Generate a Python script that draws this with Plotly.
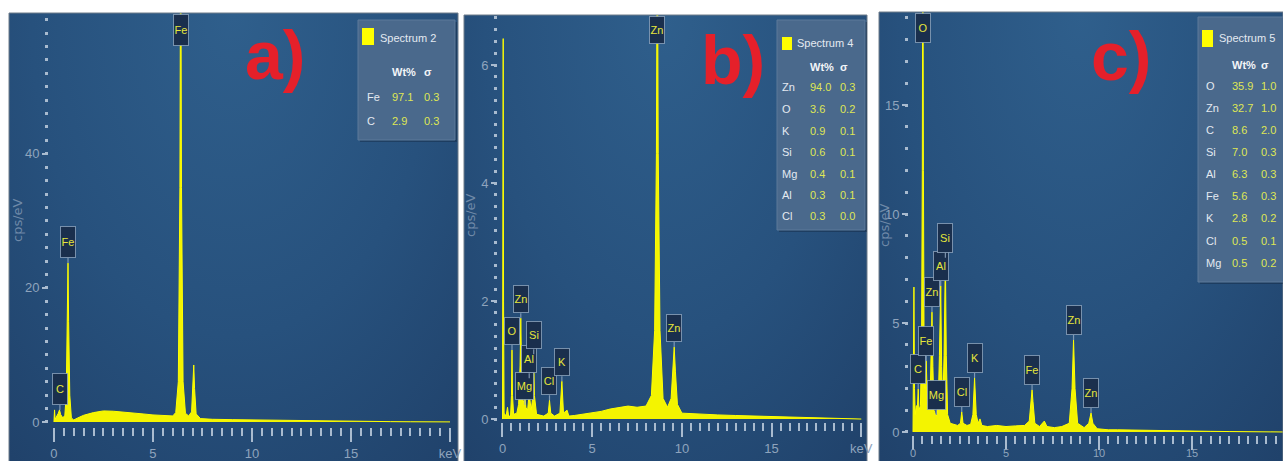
import plotly.graph_objects as go

W, H = 1283, 461

# ---------------- data ----------------
# Spectrum 2 (panel a): energy (keV) and counts (cps/eV)
energy_a = [0.0, 0.03, 0.06, 0.15, 0.22, 0.28, 0.34, 0.45, 0.55, 0.62, 0.68, 0.71, 0.74, 0.80, 0.88,
            1.0, 1.2, 1.5, 2.0, 2.5, 3.0, 3.5, 4.0, 4.5, 5.0, 5.5, 6.0, 6.15, 6.28, 6.36, 6.40, 6.44,
            6.52, 6.64, 6.8, 6.95, 7.02, 7.06, 7.10, 7.18, 7.4, 8.0, 9.0, 10.0, 11.0, 12.0, 13.0,
            14.0, 15.0, 16.0, 17.0, 18.0, 19.0, 20.0]
cps_a = [0.0, 1.8, 0.4, 0.8, 1.3, 1.8, 1.1, 0.6, 1.0, 4.0, 15.0, 23.7, 15.0, 4.0, 0.6,
         0.3, 0.6, 1.0, 1.4, 1.65, 1.6, 1.5, 1.35, 1.2, 1.05, 0.95, 0.9, 1.4, 6.0, 35.0, 80.0, 35.0,
         6.0, 1.3, 0.9, 1.5, 5.0, 8.5, 5.0, 1.2, 0.5, 0.4, 0.35, 0.3, 0.25, 0.2, 0.15,
         0.12, 0.1, 0.07, 0.05, 0.03, 0.02, 0.01]

# Spectrum 4 (panel b)
energy_b = [0.0, 0.02, 0.04, 0.06, 0.09, 0.2, 0.28, 0.34, 0.45, 0.5, 0.53, 0.56, 0.62, 0.8, 0.9,
            0.98, 1.02, 1.06, 1.14, 1.2, 1.25, 1.3, 1.4, 1.46, 1.49, 1.52, 1.6, 1.7, 1.74, 1.78,
            1.9, 2.3, 2.55, 2.62, 2.69, 2.9, 3.2, 3.31, 3.4, 3.6, 3.7, 4.0, 4.5, 5.0, 5.5, 6.0,
            6.5, 7.0, 7.5, 8.0, 8.3, 8.48, 8.58, 8.63, 8.68, 8.78, 8.95, 9.2, 9.4, 9.5, 9.57,
            9.64, 9.75, 10.0, 11.0, 12.0, 13.0, 14.0, 15.0, 16.0, 17.0, 18.0, 20.0]
cps_b = [0.0, 2.0, 6.45, 2.0, 0.1, 0.05, 0.2, 0.05, 0.05, 0.4, 1.17, 0.4, 0.08, 0.1, 0.25,
         0.9, 1.71, 0.9, 0.3, 0.3, 0.42, 0.2, 0.15, 0.35, 0.69, 0.35, 0.15, 0.4, 1.1, 0.4,
         0.08, 0.05, 0.1, 0.32, 0.1, 0.05, 0.1, 0.64, 0.1, 0.15, 0.05, 0.06, 0.08, 0.1, 0.13, 0.17,
         0.2, 0.22, 0.2, 0.22, 0.4, 1.5, 4.5, 9.0, 4.5, 1.5, 0.35, 0.2, 0.35, 0.8, 1.22,
         0.8, 0.25, 0.1, 0.08, 0.07, 0.06, 0.05, 0.04, 0.03, 0.02, 0.01, 0.0]

# Spectrum 5 (panel c)
energy_c = [0.0, 0.02, 0.05, 0.08, 0.12, 0.18, 0.24, 0.28, 0.32, 0.4, 0.46, 0.5, 0.53, 0.56, 0.6,
            0.65, 0.71, 0.77, 0.85, 0.92, 0.97, 1.02, 1.07, 1.13, 1.2, 1.25, 1.3, 1.36, 1.42, 1.49,
            1.54, 1.6, 1.67, 1.74, 1.79, 1.86, 2.0, 2.2, 2.4, 2.55, 2.62, 2.69, 2.9, 3.1, 3.22,
            3.31, 3.4, 3.5, 3.6, 3.7, 4.0, 4.5, 5.0, 5.5, 6.0, 6.25, 6.35, 6.40, 6.45, 6.55, 6.8,
            7.06, 7.2, 7.6, 8.0, 8.4, 8.55, 8.63, 8.71, 8.85, 9.2, 9.45, 9.57, 9.67, 9.9, 10.5,
            11.0, 12.0, 13.0, 14.0, 15.0, 16.0, 17.0, 18.0, 20.0]
cps_c = [0.0, 2.5, 6.65, 2.0, 0.8, 1.2, 1.2, 1.97, 1.0, 1.2, 4.0, 12.0, 25.0, 12.0, 3.0,
         2.0, 3.26, 1.5, 1.2, 1.5, 3.5, 5.5, 3.0, 1.0, 0.8, 0.78, 0.7, 1.5, 3.5, 6.7,
         3.0, 1.2, 3.5, 8.0, 3.5, 0.8, 0.4, 0.35, 0.3, 0.4, 0.92, 0.4, 0.3, 0.35, 0.8,
         2.48, 0.8, 0.4, 0.6, 0.3, 0.25, 0.3, 0.25, 0.28, 0.3, 0.5, 1.4, 1.93, 1.4, 0.4, 0.25,
         0.5, 0.25, 0.2, 0.25, 0.4, 2.0, 4.22, 2.0, 0.4, 0.2, 0.4, 0.87, 0.4, 0.15, 0.1,
         0.1, 0.08, 0.06, 0.05, 0.04, 0.03, 0.02, 0.01, 0.0]

# Peak labels: element, energy (keV), pointer height (cps/eV; None = peak beyond top)
peaks_a = [("C", 0.30, 1.8), ("Fe", 0.71, 23.7), ("Fe", 6.40, None)]
peaks_b = [("O", 0.53, 1.17), ("Zn", 1.02, 1.71), ("Mg", 1.25, 0.24), ("Al", 1.49, 0.69),
           ("Si", 1.74, 1.1), ("Cl", 2.62, 0.32), ("K", 3.31, 0.64), ("Zn", 8.63, None),
           ("Zn", 9.57, 1.22)]
peaks_c = [("C", 0.28, 1.97), ("Fe", 0.71, 3.26), ("Zn", 1.02, 5.5), ("Mg", 1.25, 0.78),
           ("Al", 1.49, 6.7), ("Si", 1.74, 8.0), ("Cl", 2.62, 0.92), ("K", 3.31, 2.48),
           ("Fe", 6.40, 1.93), ("Zn", 8.63, 4.22), ("Zn", 9.57, 0.87), ("O", 0.53, None)]

# Quantification tables
spectrum_names = ["Spectrum 2", "Spectrum 4", "Spectrum 5"]
elements_a = ["Fe", "C"]
wt_a = ["97.1", "2.9"]
sigma_a = ["0.3", "0.3"]
elements_b = ["Zn", "O", "K", "Si", "Mg", "Al", "Cl"]
wt_b = ["94.0", "3.6", "0.9", "0.6", "0.4", "0.3", "0.3"]
sigma_b = ["0.3", "0.2", "0.1", "0.1", "0.1", "0.1", "0.0"]
elements_c = ["O", "Zn", "C", "Si", "Al", "Fe", "K", "Cl", "Mg"]
wt_c = ["35.9", "32.7", "8.6", "7.0", "6.3", "5.6", "2.8", "0.5", "0.5"]
sigma_c = ["1.0", "1.0", "2.0", "0.3", "0.3", "0.3", "0.2", "0.1", "0.2"]

panel_tags = ["a)", "b)", "c)"]
x_tickvals = [0, 5, 10, 15, 20]
x_ticktext = ["0", "5", "10", "15", "keV"]
y_tickvals_a = [0, 20, 40]
y_tickvals_b = [0, 2, 4, 6]
y_tickvals_c = [0, 5, 10, 15]

# ---------------- styling helpers ----------------
FONT = "Liberation Sans, Arial, sans-serif"
YEL = "#ffff00"
TICKC = "#a9bbcf"
LABC = "#8fa4bd"


def px(p):
    return p / W


def py(p):
    return (H - p) / H


fig = go.Figure()

# panel frames (pixels): left, right, top
frames = [(9, 458, 13), (464, 867, 15), (879, 1283, 12)]

layout = dict(
    width=W, height=H, margin=dict(l=0, r=0, t=0, b=0, pad=0), autosize=False,
    paper_bgcolor="white", plot_bgcolor="rgba(0,0,0,0)", showlegend=False,
)

# background gradient axes 1..3
for i, (l, r, t) in enumerate(frames):
    n = "" if i == 0 else str(i + 1)
    layout["xaxis" + n] = dict(domain=[px(l), min(px(r), 1.0)], range=[0, 1], visible=False,
                               fixedrange=True, automargin=False, anchor="y" + n)
    layout["yaxis" + n] = dict(domain=[0, py(t)], range=[0, 1], visible=False, fixedrange=True,
                               automargin=False, anchor="x" + n)
    fig.add_trace(go.Scatter(
        x=[-0.5, 1.5, 1.5, -0.5, -0.5], y=[-0.6, -0.6, 2.6, 2.6, -0.6],
        xaxis="x" + n, yaxis="y" + n, mode="lines", line=dict(width=0),
        fill="toself",
        fillgradient=dict(type="radial",
                          colorscale=[[0, "#2f5f8c"], [0.45, "#27517d"], [1, "#1c3960"]]),
        hoverinfo="skip"))

# data axes 4..6
axes_spec = [
    ((49, 452), (427, 13), [-0.25, 20.1], [-0.75, 61.0], y_tickvals_a, 2, energy_a, cps_a, 0, 13),
    ((498, 864), (422, 15), [-0.25, 20.15], [-0.05, 6.85], y_tickvals_b, 0.2, energy_b, cps_b, 0, 13),
    ((909, 1283), (435, 12), [-0.215, 19.89], [-0.138, 19.27], y_tickvals_c, 1, energy_c, cps_c, -6, 11),
]
for i, (dx, dy, xr, yr, yt, ymin_dt, ex, cy, stand, xfs) in enumerate(axes_spec):
    k = str(i + 4)
    layout["xaxis" + k] = dict(
        domain=[px(dx[0]), min(px(dx[1]), 1.0)], range=xr, anchor="y" + k, automargin=False,
        showgrid=False, zeroline=False, showline=False,
        tickmode="array", tickvals=x_tickvals, ticktext=x_ticktext,
        ticks="outside", ticklen=14, tickwidth=2, tickcolor=TICKC, ticklabelstandoff=stand,
        minor=dict(dtick=0.5, tick0=0, ticks="outside", ticklen=8, tickwidth=2, tickcolor=TICKC),
        tickfont=dict(family=FONT, size=xfs, color=LABC), fixedrange=True)
    layout["yaxis" + k] = dict(
        domain=[py(dy[0]), py(dy[1])], range=yr, anchor="x" + k, automargin=False,
        showgrid=False, zeroline=False, showline=False,
        tickmode="array", tickvals=yt,
        ticks="outside", ticklen=6, tickwidth=2, tickcolor=TICKC,
        minor=dict(dtick=ymin_dt, tick0=0, ticks="outside", ticklen=3, tickwidth=3, tickcolor=TICKC),
        tickfont=dict(family=FONT, size=13, color=LABC), fixedrange=True)
    fig.add_trace(go.Scatter(
        x=ex, y=cy, xaxis="x" + k, yaxis="y" + k, mode="lines",
        line=dict(color=YEL, width=1), fill="tozeroy", fillcolor="#f4f400",
        hoverinfo="skip"))

annotations = []
shapes = []

# panel frame outlines (top, left, right)
for (l, r, t) in frames:
    for (xa, ya, xb, yb) in [(l, t, r, t), (l, t, l, H + 2), (r, t, r, H + 2)]:
        shapes.append(dict(type="line", xref="paper", yref="paper", x0=px(xa), x1=px(xb),
                           y0=py(ya), y1=py(yb), line=dict(color="#6f7c8a", width=1), layer="above"))

# peak label boxes
box_h = [30, 26, 28]
for i, peaks in enumerate([peaks_a, peaks_b, peaks_c]):
    k = str(i + 4)
    ymax = axes_spec[i][3][1]
    for (el, e, h) in peaks:
        wdt = 17 if el == "Mg" else 14
        common = dict(text=el, xref="x" + k, yref="y" + k, x=e,
                      font=dict(family=FONT, size=11, color="#e6e63c"),
                      bgcolor="#1a2f4d", bordercolor="rgba(150,172,196,0.75)", borderwidth=1,
                      borderpad=0, width=wdt, height=box_h[i], xanchor="center")
        if h is None:
            annotations.append(dict(common, y=ymax, yanchor="top", yshift=-1, showarrow=False))
        else:
            annotations.append(dict(common, y=h, yanchor="bottom", showarrow=True, ax=0, ay=-5,
                                    arrowhead=0, arrowwidth=1.2, arrowcolor="rgba(150,172,196,0.8)",
                                    standoff=0))

# quantification boxes
tables = [
    dict(box=(358, 455, 20, 140), sq=(362, 374, 28, 45), name_xy=(378, 38), head_y=72,
         cols=(365, 390, 422), rows=[97, 121], el=elements_a, wt=wt_a, sg=sigma_a),
    dict(box=(777, 865, 20, 230), sq=(782, 792, 37, 50), name_xy=(795, 43), head_y=67,
         cols=(780, 808, 838), rows=[87, 109, 131, 152, 174, 195, 216], el=elements_b, wt=wt_b,
         sg=sigma_b),
    dict(box=(1198, 1290, 17, 282), sq=(1202, 1213, 30, 47), name_xy=(1217, 38), head_y=65,
         cols=(1204, 1230, 1259), rows=[86, 108, 130, 152, 174, 196, 218, 241, 263],
         el=elements_c, wt=wt_c, sg=sigma_c),
]
for i, tb in enumerate(tables):
    x0, x1, y0, y1 = tb["box"]
    shapes.append(dict(type="rect", xref="paper", yref="paper", x0=px(x0 + 2), x1=px(x1 + 2),
                       y0=py(y1 + 2), y1=py(y0 + 2), line=dict(width=0),
                       fillcolor="rgba(15,30,50,0.35)", layer="above"))
    shapes.append(dict(type="rect", xref="paper", yref="paper", x0=px(x0), x1=px(x1),
                       y0=py(y1), y1=py(y0), line=dict(color="#5d7a9a", width=1),
                       fillcolor="#4a698c", layer="above"))
    s0, s1, s2, s3 = tb["sq"]
    shapes.append(dict(type="rect", xref="paper", yref="paper", x0=px(s0), x1=px(s1),
                       y0=py(s3), y1=py(s2), line=dict(width=0), fillcolor=YEL, layer="above"))
    annotations.append(dict(text=spectrum_names[i], xref="paper", yref="paper",
                            x=px(tb["name_xy"][0]), y=py(tb["name_xy"][1]), xanchor="left",
                            yanchor="middle", showarrow=False,
                            font=dict(family=FONT, size=11, color="#e4eaf1")))
    c0, c1, c2 = tb["cols"]
    annotations.append(dict(text="<b>Wt%</b>", xref="paper", yref="paper", x=px(c1), y=py(tb["head_y"]),
                            xanchor="left", yanchor="middle", showarrow=False,
                            font=dict(family=FONT, size=11, color="#f2f5f8")))
    annotations.append(dict(text="<b>σ</b>", xref="paper", yref="paper", x=px(c2), y=py(tb["head_y"]),
                            xanchor="left", yanchor="middle", showarrow=False,
                            font=dict(family=FONT, size=11, color="#f2f5f8")))
    for r, el, wv, sv in zip(tb["rows"], tb["el"], tb["wt"], tb["sg"]):
        for cx, txt, col in [(c0, el, "#e4eaf1"), (c1, wv, "#dfe654"), (c2, sv, "#dfe654")]:
            annotations.append(dict(text=txt, xref="paper", yref="paper", x=px(cx), y=py(r),
                                    xanchor="left", yanchor="middle", showarrow=False,
                                    font=dict(family=FONT, size=11, color=col)))

# big red panel tags
for tag, (cx, cy) in zip(panel_tags, [(275, 55), (733, 60), (1121, 56)]):
    annotations.append(dict(text="<b>" + tag + "</b>", xref="paper", yref="paper", x=px(cx), y=py(cy),
                            xanchor="center", yanchor="middle", showarrow=False,
                            font=dict(family=FONT, size=68, color="#e5202a")))

# y-axis titles
for (cx, cy) in [(18, 220), (470, 215), (884, 225)]:
    annotations.append(dict(text="cps/eV", xref="paper", yref="paper", x=px(cx), y=py(cy),
                            xanchor="center", yanchor="middle", textangle=-90, showarrow=False,
                            font=dict(family="DejaVu Sans, sans-serif", size=13, color="#6f89a8")))

layout["annotations"] = annotations
layout["shapes"] = shapes
fig.update_layout(**layout)
fig.write_html("out.html")
